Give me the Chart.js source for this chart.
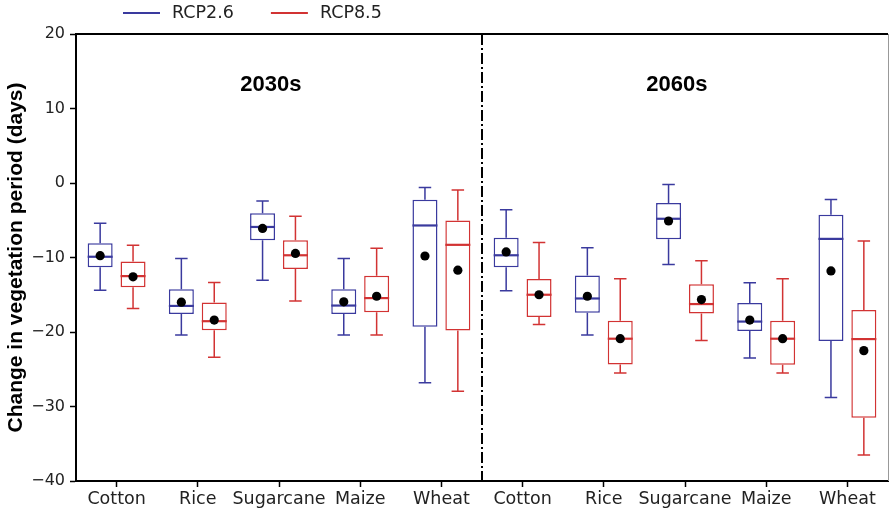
<!DOCTYPE html>
<html>
<head>
<meta charset="utf-8">
<script src="https://cdn.jsdelivr.net/npm/chart.js@4.4.1/dist/chart.umd.min.js"></script>
<style>
  body { margin: 0; background: #fff; }
  #wrap { width: 890px; height: 511px; }
</style>
</head>
<body>
<div id="wrap"><canvas id="boxChart" width="890" height="511"></canvas></div>
<script>
const categories = ["Cotton", "Rice", "Sugarcane", "Maize", "Wheat",
                    "Cotton", "Rice", "Sugarcane", "Maize", "Wheat"];
const periods = ["2030s", "2060s"];
const yTicks = [20, 10, 0, -10, -20, -30, -40];

// RCP2.6 box stats
const rcp26Min  = [-14.4, -20.4, -13.05, -20.4, -26.8, -14.45, -20.4, -10.95, -23.5, -28.8];
const rcp26Q1   = [-11.3, -17.6, -7.7, -17.6, -19.3, -11.3, -17.4, -7.55, -19.85, -21.2];
const rcp26Med  = [-9.9, -16.5, -5.9, -16.45, -5.7, -9.7, -15.5, -4.8, -18.6, -7.5];
const rcp26Q3   = [-8.1, -14.25, -4.05, -14.25, -2.25, -7.35, -12.4, -2.7, -16.1, -4.25];
const rcp26Max  = [-5.4, -10.15, -2.4, -10.15, -0.6, -3.6, -8.7, -0.2, -13.4, -2.2];
const rcp26Mean = [-9.75, -16.0, -6.1, -15.95, -9.8, -9.25, -15.2, -5.1, -18.4, -11.8];

// RCP8.5 box stats
const rcp85Min  = [-16.85, -23.4, -15.85, -20.4, -27.95, -19.0, -25.5, -21.15, -25.5, -36.5];
const rcp85Q1   = [-14.0, -19.75, -11.55, -17.35, -19.8, -18.0, -24.35, -17.5, -24.4, -31.5];
const rcp85Med  = [-12.5, -18.55, -9.7, -15.45, -8.3, -15.0, -20.9, -16.25, -20.9, -20.95];
const rcp85Q3   = [-10.55, -16.05, -7.7, -12.45, -5.05, -12.9, -18.5, -13.6, -18.5, -17.05];
const rcp85Max  = [-8.35, -13.35, -4.45, -8.75, -0.95, -8.0, -12.85, -10.45, -12.85, -7.8];
const rcp85Mean = [-12.6, -18.4, -9.45, -15.2, -11.7, -15.0, -20.9, -15.65, -20.9, -22.5];

const BLUE = "#3a3a9e";
const RED = "#d23333";
const TICK_FONT = "DejaVu Sans";

const stats = [
  { min: rcp26Min, med: rcp26Med, max: rcp26Max, mean: rcp26Mean, q1: rcp26Q1, q3: rcp26Q3 },
  { min: rcp85Min, med: rcp85Med, max: rcp85Max, mean: rcp85Mean, q1: rcp85Q1, q3: rcp85Q3 },
];

function boxData(q1, q3) {
  return q1.map((v, i) => [v, q3[i]]);
}

// whiskers, medians, means, divider, period labels, legend
const boxExtras = {
  id: "boxExtras",
  afterDatasetsDraw(chart) {
    const ctx = chart.ctx;
    const y = chart.scales.y;
    const x = chart.scales.x;
    const area = chart.chartArea;

    chart.data.datasets.forEach((ds, di) => {
      const s = stats[di];
      const meta = chart.getDatasetMeta(di);
      meta.data.forEach((bar, j) => {
        const cx = bar.x;
        const half = bar.width / 2;
        const cap = bar.width / 4;
        ctx.save();
        ctx.strokeStyle = ds.borderColor;
        ctx.lineWidth = 1.5;
        ctx.beginPath();
        ctx.moveTo(cx, y.getPixelForValue(s.q3[j]));
        ctx.lineTo(cx, y.getPixelForValue(s.max[j]));
        ctx.moveTo(cx - cap, y.getPixelForValue(s.max[j]));
        ctx.lineTo(cx + cap, y.getPixelForValue(s.max[j]));
        ctx.moveTo(cx, y.getPixelForValue(s.q1[j]));
        ctx.lineTo(cx, y.getPixelForValue(s.min[j]));
        ctx.moveTo(cx - cap, y.getPixelForValue(s.min[j]));
        ctx.lineTo(cx + cap, y.getPixelForValue(s.min[j]));
        ctx.stroke();
        ctx.lineWidth = 2.2;
        ctx.beginPath();
        ctx.moveTo(cx - half, y.getPixelForValue(s.med[j]));
        ctx.lineTo(cx + half, y.getPixelForValue(s.med[j]));
        ctx.stroke();
        ctx.fillStyle = "#000";
        ctx.beginPath();
        ctx.arc(cx, y.getPixelForValue(s.mean[j]), 4.6, 0, Math.PI * 2);
        ctx.fill();
        ctx.restore();
      });
    });

    // dash-dot divider between the two periods
    const dx = x.getPixelForValue(4.5);
    ctx.save();
    ctx.strokeStyle = "#000";
    ctx.lineWidth = 2;
    ctx.setLineDash([11, 3, 2, 3]);
    ctx.beginPath();
    ctx.moveTo(dx, area.top);
    ctx.lineTo(dx, area.bottom);
    ctx.stroke();
    ctx.restore();

    // period labels
    ctx.save();
    ctx.fillStyle = "#000";
    ctx.font = "bold 22px 'Liberation Sans', Arial, sans-serif";
    ctx.textAlign = "center";
    ctx.textBaseline = "middle";
    ctx.fillText(periods[0], x.getPixelForValue(1.9), y.getPixelForValue(13.2));
    ctx.fillText(periods[1], x.getPixelForValue(6.9), y.getPixelForValue(13.2));
    ctx.restore();

    // top and right frame
    ctx.save();
    ctx.strokeStyle = "#000";
    ctx.lineWidth = 2;
    ctx.beginPath();
    ctx.moveTo(area.left - 1, area.top);
    ctx.lineTo(area.right, area.top);
    ctx.stroke();
    ctx.strokeStyle = "#999";
    ctx.lineWidth = 1;
    ctx.beginPath();
    ctx.moveTo(area.right + 0.5, area.top);
    ctx.lineTo(area.right + 0.5, area.bottom);
    ctx.stroke();
    ctx.restore();
  },
  afterDraw(chart) {
    const ctx = chart.ctx;
    let lx = 123;
    const ly = 13;
    ctx.save();
    ctx.font = "17.5px '" + TICK_FONT + "'";
    ctx.textBaseline = "middle";
    chart.data.datasets.forEach((ds) => {
      ctx.strokeStyle = ds.borderColor;
      ctx.lineWidth = 1.8;
      ctx.beginPath();
      ctx.moveTo(lx, ly);
      ctx.lineTo(lx + 37, ly);
      ctx.stroke();
      ctx.fillStyle = "#222";
      ctx.fillText(ds.label, lx + 49, ly);
      lx += 49 + ctx.measureText(ds.label).width + 37;
    });
    ctx.restore();
  },
};

function init() {
  const ctx = document.getElementById("boxChart").getContext("2d");
  new Chart(ctx, {
    type: "bar",
    data: {
      labels: categories,
      datasets: [
        {
          label: "RCP2.6",
          data: boxData(rcp26Q1, rcp26Q3),
          backgroundColor: "#ffffff",
          borderColor: BLUE,
          borderWidth: 1.5,
          borderSkipped: false,
        },
        {
          label: "RCP8.5",
          data: boxData(rcp85Q1, rcp85Q3),
          backgroundColor: "#ffffff",
          borderColor: RED,
          borderWidth: 1.5,
          borderSkipped: false,
        },
      ],
    },
    options: {
      responsive: false,
      animation: false,
      events: [],
      categoryPercentage: 0.81,
      barPercentage: 0.76,
      layout: { padding: { top: 34, right: 2, left: 0, bottom: 0 } },
      plugins: {
        legend: { display: false },
        tooltip: { enabled: false },
      },
      scales: {
        x: {
          offset: true,
          grid: { offset: false, drawOnChartArea: false, tickLength: 6, color: "#000", tickWidth: 1.5 },
          border: { color: "#000", width: 2 },
          ticks: {
            autoSkip: false,
            maxRotation: 0,
            padding: 2,
            color: "#222",
            font: { family: TICK_FONT, size: 17.5 },
          },
          afterFit(scale) { scale.height = 30; },
        },
        y: {
          min: -40,
          max: 20,
          afterBuildTicks(scale) { scale.ticks = yTicks.map((v) => ({ value: v })); },
          grid: { drawOnChartArea: false, tickLength: 6, color: "#000", tickWidth: 1.5 },
          border: { color: "#000", width: 2 },
          ticks: {
            padding: 5,
            color: "#222",
            font: { family: TICK_FONT, size: 16 },
            callback: (v) => String(v).replace("-", "\u2212"),
          },
          title: {
            display: true,
            text: "Change in vegetation period (days)",
            color: "#000",
            font: { family: "Liberation Sans", size: 21, weight: "bold" },
            padding: { top: 4, bottom: 0 },
          },
          afterFit(scale) { scale.width = 76; },
        },
      },
    },
    plugins: [boxExtras],
  });
}

document.addEventListener("DOMContentLoaded", init);
</script>
</body>
</html>
